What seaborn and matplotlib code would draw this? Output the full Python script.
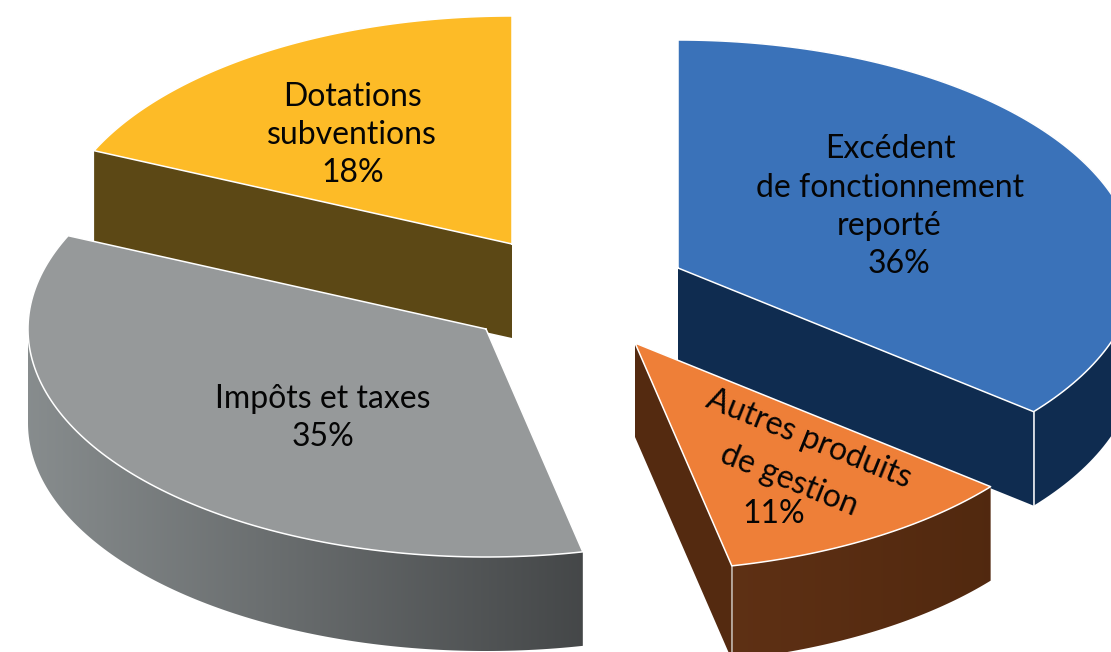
import numpy as np
import seaborn as sns
import matplotlib.pyplot as plt
from matplotlib.patches import Polygon

# share of each slice, clockwise from the top
names = ["Excédent de fonctionnement reporté", "Autres produits de gestion", "Impôts et taxes", "Dotations subventions"]
shares = [35.85, 10.76, 35.1, 18.29]

top_colors = ["#3a72b9", "#ee7f38", "#96999a", "#fdbb27"]
side_colors = ["#0f2c50", "#542a10", "#5c4815", "#5c4815"]

sns.set_theme(style="white")
plt.rcParams['font.family'] = ['Lato', 'DejaVu Sans']
palette = sns.color_palette(top_colors)
side_palette = sns.color_palette(side_colors)

# layout, in pixels of the picture
RX, RY, DEPTH = 458, 228, 94
apex = {0: (678, 268), 1: (635, 343), 2: (486, 329), 3: (512, 244)}
FS = 23

fig = plt.figure(figsize=(11.11, 6.52), dpi=100)
ax = fig.add_axes([0, 0, 1, 1])
ax.set_xlim(0, 1111)
ax.set_ylim(652, 0)
sns.despine(ax=ax, left=True, bottom=True)
ax.set_xticks([])
ax.set_yticks([])

edges = np.concatenate([[0], np.cumsum(shares)]) * 3.6


def rim(i, t0, t1):
    t = np.radians(np.linspace(t0, t1, 120))
    return np.column_stack([apex[i][0] + RX * np.sin(t), apex[i][1] - RY * np.cos(t)])


def side_face(pts):
    return np.vstack([pts, (pts + [0, DEPTH])[::-1]])


def gradient_face(pts, left, right, z):
    # shaded wall: a horizontal ramp clipped to the wall outline
    poly = Polygon(pts, closed=True, fc="none", ec="none", transform=ax.transData, zorder=z)
    ax.add_patch(poly)
    c0, c1 = np.array(left), np.array(right)
    f = np.linspace(0, 1, 256)[None, :, None]
    x0, x1 = pts[:, 0].min(), pts[:, 0].max()
    y0, y1 = pts[:, 1].min(), pts[:, 1].max()
    im = ax.imshow(c0 + (c1 - c0) * f, extent=[x0, x1, y1, y0], aspect="auto", zorder=z)
    im.set_clip_path(poly)


WHITE = dict(color="white", lw=1.1, solid_capstyle="round")

# back to front: yellow, blue, grey, orange
for i, z in [(3, 1), (0, 2), (2, 3), (1, 4)]:
    t0, t1 = edges[i], edges[i + 1]
    pts = rim(i, t0, t1)
    a = np.array(apex[i], dtype=float)
    top = np.vstack([[a], pts])

    if i == 3:
        ax.add_patch(Polygon(side_face(np.array([pts[0], a])), fc=side_palette[i], ec="none", zorder=z))
    elif i == 0:
        ax.add_patch(Polygon(side_face(np.array([a, pts[-1]])), fc=side_palette[i], ec="none", zorder=z))
        ax.add_patch(Polygon(side_face(pts), fc=side_palette[i], ec="none", zorder=z))
        ax.plot([pts[-1][0]] * 2, [pts[-1][1], pts[-1][1] + DEPTH], zorder=z + 0.5, **WHITE)
    elif i == 2:
        # the wall runs round to the leftmost point of the rim
        front = rim(i, t0, 270)
        gradient_face(side_face(front), (0.53, 0.55, 0.555), (0.27, 0.28, 0.285), z)
    elif i == 1:
        ax.add_patch(Polygon(side_face(np.array([a, pts[-1]])), fc=side_palette[i], ec="none", zorder=z))
        gradient_face(side_face(pts), (0.37, 0.19, 0.08), (0.32, 0.16, 0.06), z)
        ax.plot([pts[-1][0]] * 2, [pts[-1][1], pts[-1][1] + DEPTH], zorder=z + 0.5, color="#c9c0b8", lw=1.1)

    ax.add_patch(Polygon(top, fc=palette[i], ec="none", zorder=z + 0.6))
    ax.plot(*np.vstack([top, [a]]).T, zorder=z + 0.7, **WHITE)

# labels, line by line
ink = "#050505"
pct = [f"{round(s)}%" for s in shares]
for txt, x, y, rot in [
    ("Excédent", 890, 149, 0), ("de fonctionnement", 890, 188, 0), ("reporté", 889, 226, 0), (pct[0], 899, 264, 0),
    ("Autres produits", 809, 439, -22), ("de gestion", 789, 480, -22), (pct[1], 774, 514, 0),
    ("Impôts et taxes", 323, 399, 0), (pct[2], 323, 437, 0),
    ("Dotations", 352, 97, 0), ("subventions", 352, 135, 0), (pct[3], 353, 173, 0),
]:
    ax.text(x, y, txt, ha="center", va="center", rotation=rot, rotation_mode="anchor",
            fontsize=FS, color=ink, zorder=10)

ax.set_xlim(0, 1111)
ax.set_ylim(652, 0)
fig.savefig("out.png", dpi=100)
